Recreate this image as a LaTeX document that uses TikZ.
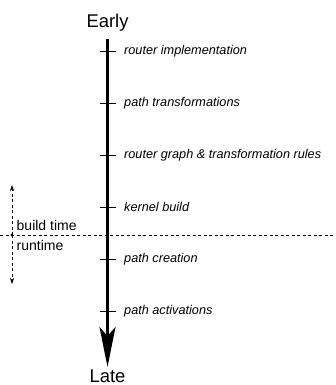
\documentclass[tikz,border=0pt]{standalone}
\usepackage{fontspec}
\setmainfont{Liberation Sans}
\usetikzlibrary{arrows.meta}
\begin{document}
\begin{tikzpicture}[x=1pt,y=-1pt,
  tick/.style={line width=0.9pt},
  lbl/.style={anchor=west,inner sep=0pt,font=\fontsize{12.7}{14}\selectfont\itshape},
  big/.style={inner sep=0pt,font=\fontsize{18.4}{20}\selectfont},
  side/.style={anchor=base west,inner sep=0pt,font=\fontsize{14}{16}\selectfont},
  dsh/.style={line width=0.6pt,dash pattern=on 3pt off 2.5pt}]
\useasboundingbox (0,0) rectangle (335,385);
% title
\node[big,anchor=base] (early) at (107.5,27.7) {Early};
\node[big,anchor=base] (late) at (107.5,382.5) {Late};
% axis
\coordinate (top) at (107.5,39);
\coordinate (bot) at (107.5,367);
\draw[line width=2.6pt,-{Stealth[length=40pt,width=16pt,inset=9pt]}] (top) -- (bot);
% ticks and labels
\foreach \y/\t/\n in {51/router implementation/a,103/path transformations/b,155/router graph \& transformation rules/c,207/kernel build/d,259/path creation/e,311/path activations/f}{
  \coordinate (tl\n) at (100,\y);
  \coordinate (tr\n) at (116,\y);
  \draw[tick] (tl\n) -- (tr\n);
  \node[lbl] (l\n) at (124,\y) {\t};
}
% separator
\coordinate (sl) at (0,235);
\coordinate (sr) at (335,235);
\draw[dsh] (sl) -- (sr);
\coordinate (vt) at (12,185);
\coordinate (vb) at (12,284);
\coordinate (vm) at (12,235);
\draw[dsh,-{Stealth[length=6pt,width=4pt]}] (vm) -- (vt);
\draw[dsh,-{Stealth[length=6pt,width=4pt]}] (vm) -- (vb);
\fill (vm) circle (1.6);
\node[side] (bt) at (16.5,230) {build time};
\node[side] (rt) at (16.5,250.5) {runtime};
\end{tikzpicture}
\end{document}
